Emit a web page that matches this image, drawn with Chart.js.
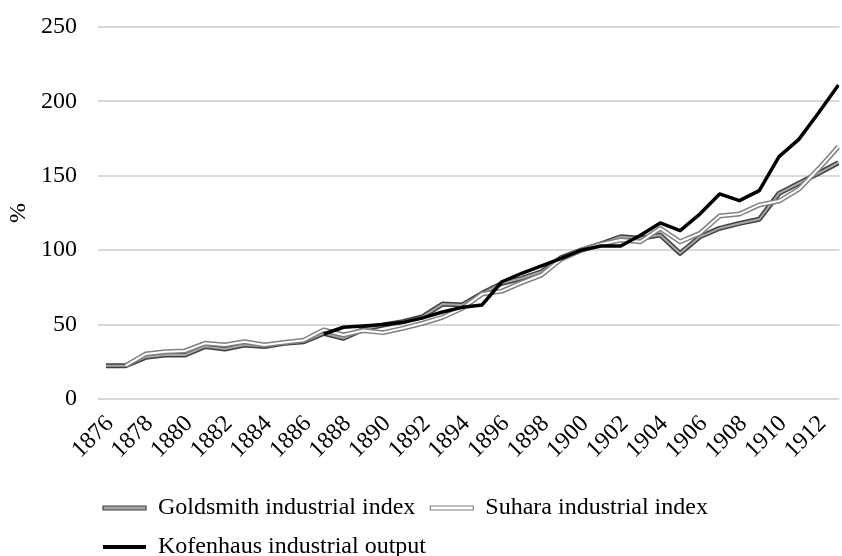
<!DOCTYPE html>
<html>
<head>
<meta charset="utf-8">
<script src="https://cdn.jsdelivr.net/npm/chart.js@4.4.1/dist/chart.umd.min.js"></script>
<style>
  html, body { margin: 0; padding: 0; background: #fff; }
  #wrap { width: 842px; height: 556px; }
</style>
</head>
<body>
<div id="wrap"><canvas id="lineChart"></canvas></div>
<script>
// Anos (eixo x) e séries
const anos = [1876, 1877, 1878, 1879, 1880, 1881, 1882, 1883, 1884, 1885,
    1886, 1887, 1888, 1889, 1890, 1891, 1892, 1893, 1894, 1895,
    1896, 1897, 1898, 1899, 1900, 1901, 1902, 1903, 1904, 1905,
    1906, 1907, 1908, 1909, 1910, 1911, 1912, 1913];
const rotulosX = [1876, 1878, 1880, 1882, 1884, 1886, 1888, 1890, 1892, 1894,
    1896, 1898, 1900, 1902, 1904, 1906, 1908, 1910, 1912];
const ticksY = [0, 50, 100, 150, 200, 250];

const goldsmith = [22.4, 22.4, 28.0, 29.6, 29.6, 35.2, 33.6, 36.3, 35.2, 37.4,
    38.5, 44.1, 40.8, 46.8, 49.7, 52.0, 55.3, 63.8, 63.2, 71.0,
    77.7, 81.1, 85.5, 95.0, 100, 104.2, 109.0, 108.0, 110.2, 97.9,
    109.0, 114.7, 118.0, 120.8, 138.2, 145.0, 151.7, 158.8];
const suhara = [null, 22.4, 30.2, 31.8, 32.3, 37.4, 36.3, 38.5, 36.3, 38.0,
    39.5, 46.4, 43.0, 46.0, 44.6, 47.5, 50.9, 54.9, 61.0, 70.5,
    72.5, 78.2, 83.3, 94.0, 100, 104.0, 106.9, 105.7, 114.7, 105.7,
    111.3, 123.0, 124.3, 130.4, 133.0, 141.0, 154.7, 169.6];
const kofenhaus = [null, null, null, null, null, null, null, null, null, null,
    null, 43.7, 48.2, 49.0, 50.0, 51.5, 54.5, 58.5, 61.6, 63.2,
    78.8, 84.5, 89.5, 94.5, 100, 102.8, 102.8, 110.0, 118.3, 113.1,
    124.3, 137.8, 133.3, 140.0, 162.9, 174.5, 192.4, 211.0];

function pontos(valores) {
    return anos.map((a, i) => ({ x: a, y: valores[i] }));
}

Chart.defaults.font.family = "'Liberation Serif', 'Times New Roman', serif";
Chart.defaults.color = '#000';

const data = {
    datasets: [
        // linhas duplas: contorno + miolo
        { label: 'Goldsmith industrial index', data: pontos(goldsmith),
          borderColor: '#404040', backgroundColor: '#a6a6a6', borderWidth: 5, order: 4 },
        { label: 'Goldsmith industrial index', data: pontos(goldsmith), inner: true,
          borderColor: '#a6a6a6', borderWidth: 2, order: 3 },
        { label: 'Suhara industrial index', data: pontos(suhara),
          borderColor: '#808080', backgroundColor: '#ffffff', borderWidth: 5, order: 2 },
        { label: 'Suhara industrial index', data: pontos(suhara), inner: true,
          borderColor: '#ffffff', borderWidth: 2, order: 1 },
        { label: 'Kofenhaus industrial output', data: pontos(kofenhaus),
          borderColor: '#000000', backgroundColor: '#000000', borderWidth: 3.5, order: 0 }
    ]
};

// Legenda alinhada como no original
const ajusteLegenda = {
    id: 'ajusteLegenda',
    afterLayout(chart) {
        const lg = chart.legend;
        lg.left = 88;
        lg.right = 842;
        lg.top = 481;
        lg.bottom = 572;
    }
};

const config = {
    type: 'line',
    data: data,
    options: {
        responsive: true,
        maintainAspectRatio: false,
        animation: false,
        layout: { padding: { top: 27, right: 0, left: 0, bottom: 0 } },
        elements: {
            line: { tension: 0, borderJoinStyle: 'round', fill: false },
            point: { radius: 0, hoverRadius: 0 }
        },
        plugins: {
            tooltip: { enabled: false },
            legend: {
                position: 'bottom',
                align: 'start',
                labels: {
                    font: { size: 24 },
                    color: '#000',
                    boxWidth: 43,
                    boxHeight: 4,
                    padding: 15,
                    sort: (a, b) => a.datasetIndex - b.datasetIndex,
                    generateLabels: function(chart) {
                        const itens = Chart.defaults.plugins.legend.labels.generateLabels(chart);
                        return itens
                            .filter(it => !chart.data.datasets[it.datasetIndex].inner)
                            .map(it => {
                                it.lineWidth = it.fillStyle === '#000000' ? 0 : 1.2;
                                return it;
                            });
                    }
                }
            }
        },
        scales: {
            x: {
                type: 'linear',
                min: 1875.6,
                max: 1913.05,
                grid: { display: false },
                border: { display: false },
                afterBuildTicks: function(scale) {
                    scale.ticks = rotulosX.map(v => ({ value: v }));
                },
                afterFit: function(scale) { scale.height = 69; },
                ticks: {
                    autoSkip: false,
                    minRotation: 45,
                    maxRotation: 45,
                    padding: 3,
                    labelOffset: 4,
                    font: { size: 24 },
                    callback: v => String(v)
                }
            },
            y: {
                min: 0,
                max: 250,
                afterBuildTicks: function(scale) {
                    scale.ticks = ticksY.map(v => ({ value: v }));
                },
                afterFit: function(scale) {
                    scale.width = 98;
                    scale.paddingTop = 0;
                    scale.paddingBottom = 0;
                },
                grid: { color: '#d9d9d9', lineWidth: 2, drawTicks: false },
                border: { display: false },
                ticks: { padding: 21, font: { size: 24 } },
                title: { display: true, text: '%', font: { size: 24 }, padding: { top: 4, bottom: 0 } }
            }
        }
    },
    plugins: [ajusteLegenda]
};

const ctx = document.getElementById('lineChart').getContext('2d');
new Chart(ctx, config);
</script>
</body>
</html>
